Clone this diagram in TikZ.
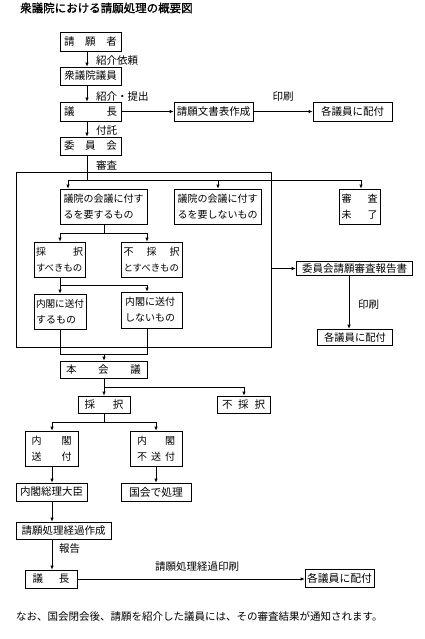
\documentclass[tikz,border=0pt]{standalone}
\usepackage{fontspec}
\setmainfont{Noto Sans CJK JP}
\newfontfamily\ttlfont[FakeBold=1.2]{Noto Sans CJK JP}
\usetikzlibrary{arrows.meta}
\newcommand\fs[1]{\fontsize{#1}{16}\selectfont}
\begin{document}
\begin{tikzpicture}[x=1pt,y=-1pt,
  box/.style={draw, line width=0.7pt, inner sep=0pt, font=\fs{10}, align=left},
  cbox/.style={draw, line width=0.7pt, inner sep=0pt, font=\fs{10.5}, align=center},
  tbox/.style={draw, line width=1.6pt, inner sep=0pt, font=\fs{10.5}, align=center},
  lab/.style={inner sep=0pt, anchor=west, font=\fs{10.5}},
  ln/.style={line width=0.7pt},
  arr/.style={line width=0.7pt, -{Latex[length=4pt,width=3.5pt]}}]
\useasboundingbox (0,0) rectangle (424,639);
% title
\node[lab, font=\ttlfont\fs{11.5}] (ttl) at (20,8) {衆議院における請願処理の概要図};
% top column
\node[cbox, minimum width=61pt, minimum height=19pt] (req) at (90.5,41.5) {\makebox[53pt]{請\hfill 願\hfill 者}};
\node[cbox, minimum width=61pt, minimum height=18pt] (mem) at (90.5,76) {衆議院議員};
\node[cbox, minimum width=61pt, minimum height=19pt] (spk) at (90.5,111.5) {\makebox[53pt]{議\hfill 長}};
\node[cbox, minimum width=79pt, minimum height=19pt] (doc) at (213.5,111.5) {請願文書表作成};
\node[cbox, minimum width=79pt, minimum height=19pt] (dist1) at (352.5,111.5) {各議員に配付};
\node[cbox, minimum width=61pt, minimum height=18pt] (com) at (90.5,146) {\makebox[53pt]{委\hfill 員\hfill 会}};
% labels
\node[lab] (l1) at (96,61) {紹介依頼};
\node[lab] (l2) at (96,97) {紹介・提出};
\node[lab, anchor=center] (l3) at (283,97) {印刷};
\node[lab] (l4) at (96,131) {付託};
\node[lab] (l5) at (96,165) {審査};
% committee frame
\node[draw, line width=0.7pt, minimum width=255pt, minimum height=175pt, inner sep=0pt] (frame) at (143.5,259.5) {};
\node[box, minimum width=87pt, minimum height=35pt, text width=80pt] (needs) at (103.5,206.5) {議院の会議に付す\\るを要するもの};
\node[box, minimum width=87pt, minimum height=35pt, text width=80pt] (noneed) at (217.5,206.5) {議院の会議に付す\\るを要しないもの};
\node[box, minimum width=41pt, minimum height=35pt, text width=36pt] (unf) at (359.5,206.5) {\makebox[36pt]{審\hfill 査}\\\makebox[36pt]{未\hfill 了}};
\node[box, minimum width=51pt, minimum height=35pt, text width=47pt] (adopt) at (59.5,259.5) {\makebox[47pt]{採\hfill 択}\\{\fs{9.4}すべきもの}};
\node[box, minimum width=61pt, minimum height=35pt, text width=56pt] (noadopt) at (151.5,259.5) {\makebox[56pt]{不\hfill 採\hfill 択}\\{\fs{9.4}とすべきもの}};
\node[box, minimum width=52pt, minimum height=35pt, text width=48pt] (send) at (60,311.5) {{\fs{9.6}内閣に送付}\\するもの};
\node[box, minimum width=61pt, minimum height=36pt, text width=53pt] (nosend) at (151.5,310) {内閣に送付\\しないもの};
% report
\node[tbox, minimum width=116pt, minimum height=14pt] (rep) at (354.5,268.5) {委員会請願審査報告書};
\node[tbox, minimum width=75pt, minimum height=16pt, font=\fs{10.3}] (dist2) at (355,337.5) {各議員に配付};
\node[lab] (l6) at (358,305) {印刷};
% plenary
\node[cbox, minimum width=87pt, minimum height=17pt] (honkai) at (103.5,369.5) {\makebox[75pt]{本\hfill 会\hfill 議}};
\node[cbox, minimum width=52pt, minimum height=17pt] (saitaku) at (104,404.5) {\makebox[39pt]{採\hfill 択}};
\node[cbox, minimum width=53pt, minimum height=17pt] (fusai) at (243.5,404.5) {\makebox[43pt]{不\hfill 採\hfill 択}};
\node[box, minimum width=53pt, minimum height=35pt, text width=40pt] (naisou) at (51.5,448.5) {\makebox[40pt]{内\hfill 閣}\\\makebox[40pt]{送\hfill 付}};
\node[box, minimum width=52pt, minimum height=35pt, text width=38pt] (naifu) at (156,448.5) {\makebox[38pt]{内\hfill 閣}\\\makebox[38pt]{不\hfill 送\hfill 付}};
\node[cbox, minimum width=71pt, minimum height=18pt] (souri) at (51.5,492) {内閣総理大臣};
\node[cbox, minimum width=70pt, minimum height=18pt, font=\fs{10.8}] (kokkai) at (156,492) {国会で処理};
\node[cbox, minimum width=95pt, minimum height=17pt] (keika) at (63.5,530.5) {請願処理経過作成};
\node[cbox, minimum width=52pt, minimum height=18pt] (spk2) at (51,579) {\makebox[37pt]{議\hfill 長}};
\node[cbox, minimum width=69pt, minimum height=18pt, font=\fs{10.8}] (dist3) at (339.5,578) {各議員に配付};
\node[lab] (l7) at (59,549) {報告};
\node[lab] (l8) at (155,567) {請願処理経過印刷};
% footer
\node[lab] (foot) at (16,617) {なお、国会閉会後、請願を紹介した議員には、その審査結果が通知されます。};
% junction coordinates
\coordinate (s1) at (87,180);
\coordinate (s2) at (104,233);
\coordinate (s3) at (60,285);
\coordinate (s4) at (104,354);
\coordinate (s5) at (104,387);
\coordinate (s6) at (104,422);
% connectors
\draw[arr] (87,0 |- req.south) -- (87,0 |- mem.north);
\draw[arr] (87,0 |- mem.south) -- (87,0 |- spk.north);
\draw[arr] (spk.east) -- (doc.west);
\draw[arr] (doc.east) -- (dist1.west);
\draw[arr] (87,0 |- spk.south) -- (87,0 |- com.north);
\draw[ln] (87,0 |- com.south) -- (s1);
\draw[arr] (s1) -| (68,0 |- needs.north);
\draw[arr] (s1) -| (218,0 |- noneed.north);
\draw[arr] (s1) -| (361,0 |- unf.north);
\draw[ln] (104,0 |- needs.south) -- (s2);
\draw[arr] (s2) -| (60,0 |- adopt.north);
\draw[arr] (s2) -| (147,0 |- noadopt.north);
\draw[ln] (60,0 |- adopt.south) -- (s3);
\draw[arr] (s3) -- (60,0 |- send.north);
\draw[arr] (s3) -| (147,0 |- nosend.north);
\draw[ln] (60,0 |- send.south) |- (s4);
\draw[ln] (147,0 |- nosend.south) |- (s4);
\draw[arr] (s4) -- (104,0 |- honkai.north);
\draw[arr] (frame.east |- rep.west) -- (rep.west);
\draw[arr] (349,0 |- rep.south) -- (349,0 |- dist2.north);
\draw[arr] (104,0 |- honkai.south) -- (104,0 |- saitaku.north);
\draw[arr] (s5) -| (244,0 |- fusai.north);
\draw[ln] (104,0 |- saitaku.south) -- (s6);
\draw[arr] (s6) -| (52,0 |- naisou.north);
\draw[arr] (s6) -| (156,0 |- naifu.north);
\draw[arr] (52,0 |- naisou.south) -- (52,0 |- souri.north);
\draw[arr] (156,0 |- naifu.south) -- (156,0 |- kokkai.north);
\draw[arr] (52,0 |- souri.south) -- (52,0 |- keika.north);
\draw[arr] (52,0 |- keika.south) -- (52,0 |- spk2.north);
\draw[arr] (spk2.east) -- (dist3.west |- spk2.east);
\end{tikzpicture}
\end{document}
